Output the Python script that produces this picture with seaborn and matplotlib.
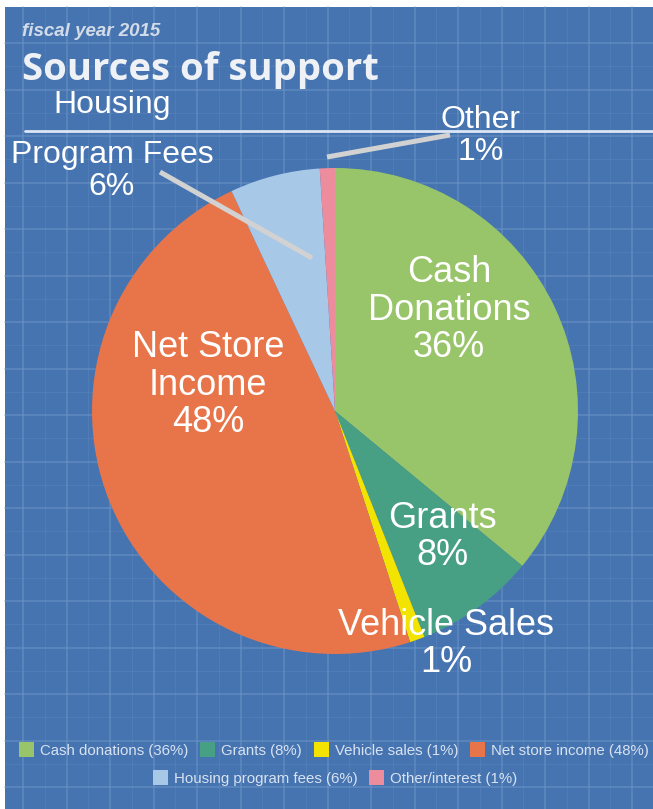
import matplotlib
matplotlib.use("Agg")
import matplotlib.pyplot as plt
from matplotlib.patches import Rectangle
import numpy as np
import seaborn as sns

# data
sources = ["Cash\nDonations", "Grants", "Vehicle Sales", "Net Store\nIncome",
           "Housing\nProgram Fees", "Other"]
shares = [36, 8, 1, 48, 6, 1]
legend_labels = ["Cash donations (36%)", "Grants (8%)", "Vehicle sales (1%)",
                 "Net store income (48%)", "Housing program fees (6%)",
                 "Other/interest (1%)"]
colors = ["#98c46a", "#48a084", "#f2e400", "#e8744a", "#a8c8e8", "#ec8c9c"]

sns.set_theme(style="white")
plt.rcParams['font.family'] = ['Liberation Sans', 'DejaVu Sans']

W, H = 653, 809
BLUE = "#4674b1"

fig = plt.figure(figsize=(W / 100, H / 100), dpi=100, facecolor="white")
ax = fig.add_axes([0, 0, 1, 1])

# pie first (it resets limits), then fix the pixel-like coordinate system
wedges, _ = ax.pie(shares, colors=sns.color_palette(colors), startangle=90,
                   counterclock=False, center=(335, H - 411), radius=243,
                   wedgeprops=dict(linewidth=0))
for w in wedges:
    w.set_zorder(3)
ax.set_xlim(0, W)
ax.set_ylim(0, H)
ax.set_aspect("equal")
ax.axis("off")

# blue blueprint background with a grid
ax.add_patch(Rectangle((5, 0), W - 5, H - 7, facecolor=BLUE, edgecolor="none", zorder=0))
for x in np.arange(23, W, 43.5):
    ax.plot([x, x], [0, H - 7], color="#6f95c7", lw=1.2, alpha=0.55, zorder=1)
for x in np.arange(23 + 43.5 / 2, W, 43.5):
    ax.plot([x, x], [0, H - 7], color="#6a90c4", lw=0.7, alpha=0.3, zorder=1)
for y in np.arange(43, H - 7, 46.5):
    ax.plot([5, W], [H - y, H - y], color="#6f95c7", lw=1.2, alpha=0.55, zorder=1)
for y in np.arange(43 + 46.5 / 2, H - 7, 46.5):
    ax.plot([5, W], [H - y, H - y], color="#6a90c4", lw=0.7, alpha=0.3, zorder=1)

# header
ax.text(22, H - 31, "fiscal year 2015", fontsize=13.5, style="italic",
        fontweight="bold", color="#d2dbe8", ha="left", va="center", zorder=4)
ax.text(22, H - 70, "Sources of support", fontsize=27.5, fontweight="bold",
        family=["Open Sans", "DejaVu Sans"], color="#eef1f5",
        ha="left", va="center", zorder=4)
ax.plot([25, W], [H - 131, H - 131], color="#dce6f4", lw=2, zorder=2)

# label layout: (x, y from top, fontsize)
label_pos = [(449, 310, 26), (442, 537, 26), (446, 644, 26),
             (208, 385, 26), (112, 171, 23), (481, 136, 23)]
for name, share, (lx, ly, fs) in zip(sources, shares, label_pos):
    lines = name.split("\n")
    if name.startswith("Housing"):
        ax.text(lx, H - 105, lines[0], fontsize=fs, color="white",
                ha="center", va="center", zorder=5)
        lines = lines[1:]
    txt = "\n".join(lines + [f"{share}%"])
    ax.text(lx, H - ly, txt, fontsize=fs, color="white", ha="center",
            va="center", linespacing=1.08, zorder=5)

# leader lines for the small slices
ax.plot([160, 312], [H - 172, H - 258], color="#d2d2d2", lw=3.6,
        solid_capstyle="butt", zorder=6)
ax.plot([327, 450], [H - 157, H - 135], color="#d2d2d2", lw=3.6,
        solid_capstyle="butt", zorder=6)

# legend in two rows
handles = [Rectangle((0, 0), 1, 1, facecolor=c, edgecolor="none") for c in colors]
leg_kw = dict(frameon=False, fontsize=10.8, labelcolor="#d8e2f0",
              handlelength=1.0, handleheight=1.1, handletextpad=0.4,
              columnspacing=0.8, borderaxespad=0)
leg1 = fig.legend(handles[:4], legend_labels[:4], ncol=4, loc="center",
                  bbox_to_anchor=(334 / W, 1 - 750 / H), **leg_kw)
leg2 = fig.legend(handles[4:], legend_labels[4:], ncol=2, loc="center",
                  bbox_to_anchor=(335 / W, 1 - 778 / H), **leg_kw)

fig.savefig("out.png", dpi=100, facecolor="white")
